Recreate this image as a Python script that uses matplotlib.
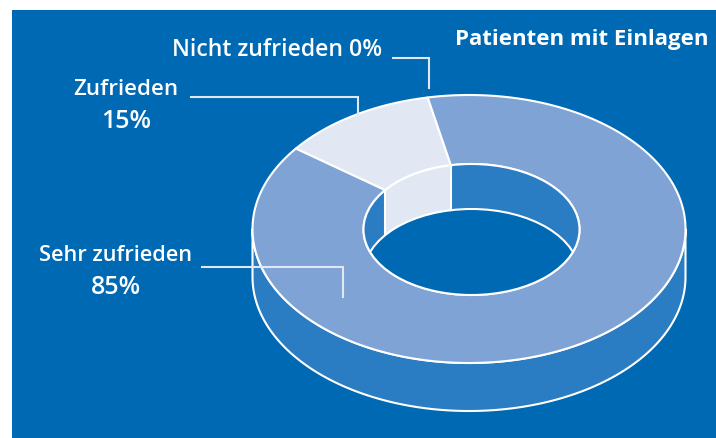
import numpy as np
import matplotlib.pyplot as plt
from matplotlib.patches import Ellipse, Polygon, Rectangle

# labels as printed vs. share of the ring as actually drawn in the picture
categories = ["Nicht zufrieden", "Zufrieden", "Sehr zufrieden"]
printed_pct = [0, 15, 85]
drawn_pct = [0, 11.7, 88.3]
title = "Patienten mit Einlagen"

BLUE = "#0069b4"
SIDE = "#2a7cc3"
RING = "#7fa3d5"
LIGHT = "#e1e8f4"
WHITE = "#ffffff"
LW = 1.5

start = 11.0  # degrees left of the top, slices run counter-clockwise
cx, cy, rx, ry = 468.5, 229.5, 216.5, 134
icx, icy, irx, iry = 471, 230, 108, 65.5
depth, idepth = 48, 45

plt.rcParams['font.family'] = ['Open Sans', 'DejaVu Sans']


def arc(x0, y0, a, b, t0, t1, n=120):
    t = np.radians(np.linspace(t0, t1, n))
    return np.column_stack([x0 - a * np.sin(t), y0 - b * np.cos(t)])


fig = plt.figure(figsize=(7.16, 4.39), dpi=100)
ax = fig.add_axes([0, 0, 1, 1])
ax.set_xlim(-0.5, 715.5)
ax.set_ylim(438.5, -0.5)
ax.axis("off")
ax.add_patch(Rectangle((11.5, 10), 705, 430, color=BLUE, lw=0))

# outer wall
front = arc(cx, cy, rx, ry, 90, 270)
wall = np.vstack([front + [0, depth], front[::-1]])
ax.add_patch(Polygon(wall, fc=SIDE, ec=WHITE, lw=LW, joinstyle="round"))

# top surface, one piece per slice
edges = start + np.cumsum([0] + drawn_pct) * 3.6
colors = [LIGHT, LIGHT, RING]
for i in range(len(categories)):
    if drawn_pct[i] == 0:
        continue
    outer = arc(cx, cy, rx, ry, edges[i], edges[i + 1], 300)
    inner = arc(icx, icy, irx, iry, edges[i + 1], edges[i], 300)
    ax.add_patch(Polygon(np.vstack([outer, inner]), fc=colors[i], ec=WHITE, lw=LW, joinstyle="round"))

# hole: back wall, light piece of wall, floor
hole = Ellipse((icx, icy), 2 * irx, 2 * iry, fc=SIDE, ec="none")
ax.add_patch(hole)
back = arc(icx, icy, irx, iry, edges[1], edges[2])
ax.add_patch(Polygon(np.vstack([back, (back + [0, idepth])[::-1]]), fc=LIGHT, ec="none"))
floor = Ellipse((icx, icy + idepth), 2 * irx, 2 * iry, fc=BLUE, ec=WHITE, lw=LW)
ax.add_patch(floor)
floor.set_clip_path(hole)
ax.add_patch(Ellipse((icx, icy), 2 * irx, 2 * iry, fc="none", ec=WHITE, lw=LW))
for p in (back[0], back[-1]):
    ax.plot([p[0], p[0]], [p[1], p[1] + idepth], color=WHITE, lw=LW)

# leader lines
leaders = [
    ([392, 428, 428], [58, 58, 88]),
    ([190, 357, 357], [97, 97, 150]),
    ([201, 342, 342], [267, 267, 297]),
]
for lx, ly in leaders:
    ax.plot(lx, ly, color=LIGHT, lw=LW, solid_joinstyle="miter")

font = dict(color=WHITE, fontweight="semibold", ha="center", va="center")
ax.text(276.5, 49, f"{categories[0]} {printed_pct[0]}%", fontsize=16.6, **font)
ax.text(125, 89, categories[1], fontsize=16, **font)
ax.text(126, 121, f"{printed_pct[1]}%", fontsize=18, **font)
ax.text(115, 255, categories[2], fontsize=15.7, **font)
ax.text(115, 287, f"{printed_pct[2]}%", fontsize=18, **font)
ax.text(581, 39, title, color=WHITE, fontsize=16, fontweight="bold", ha="center", va="center")

fig.savefig("out.png", dpi=100)
